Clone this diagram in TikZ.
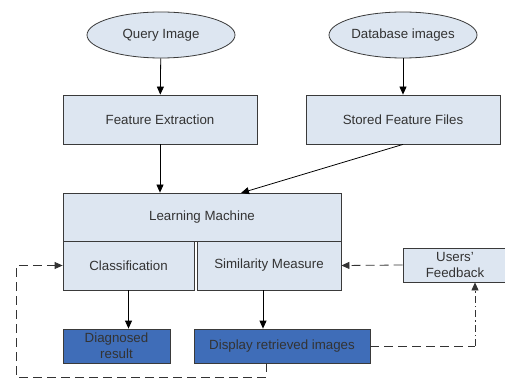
\documentclass[tikz,border=0pt]{standalone}
\usepackage{fontspec}
\setmainfont{Liberation Sans}
\usetikzlibrary{arrows.meta,shapes.geometric}
\definecolor{boxfill}{HTML}{DDE6F1}
\definecolor{darkfill}{HTML}{3F6DB8}
\definecolor{edge}{HTML}{3A3A3A}
\begin{document}
\begin{tikzpicture}[x=1pt,y=-1pt,
    every node/.style={font=\fontsize{13.3}{16}\selectfont,text=black!80,inner sep=0pt},
    inbox/.style={ellipse,draw=edge,fill=boxfill,thick,minimum width=148,minimum height=46},
    stepbox/.style={rectangle,draw=edge,fill=boxfill,thick,minimum height=49},
    outbox/.style={rectangle,draw=edge,fill=darkfill,thick,minimum height=34,align=center},
    flow/.style={thick,-{Triangle[length=8pt,width=7pt]}},
    loopline/.style={thick,draw=black!80,dash pattern=on 9pt off 5pt},
    fbline/.style={thick,draw=black!80,dash pattern=on 7pt off 3pt on 1.5pt off 3pt}]
    \useasboundingbox (0,0) rectangle (505,387);

    % inputs
    \node[inbox] (query) at (161,35) {Query Image};
    \node[inbox] (dbimg) at (403,35) {Database images};

    % feature stage
    \node[stepbox,minimum width=194] (featext) at (160,119.5) {Feature Extraction};
    \node[stepbox,minimum width=194] (stored) at (403,119.5) {Stored Feature Files};

    % learning machine and its two parts
    \node[stepbox,minimum width=278,minimum height=48] (learn) at (202,217) {Learning Machine};
    \node[stepbox,minimum width=131] (classif) at (128.5,265.5) {Classification};
    \node[stepbox,minimum width=144] (simil) at (269,265.5) {Similarity Measure};
    \node[stepbox,minimum width=104,minimum height=34,align=center] (feedback) at (455,265)
        {Users'\\Feedback};

    % outputs
    \node[outbox,minimum width=107] (diag) at (116.5,346) {Diagnosed\\result};
    \node[outbox,minimum width=176] (display) at (282,346) {Display retrieved images};

    % solid arrows
    \coordinate (lmin) at (241,193);
    \draw[flow] (query) -- (featext);
    \draw[flow] (dbimg) -- (stored);
    \draw[flow] (featext.south) -- (featext.south |- learn.north);
    \draw[flow] (stored.south) -- (lmin);
    \draw[flow] (classif.south) -- (classif.south |- diag.north);
    \draw[flow] ([xshift=-6pt]simil.south) -- ([xshift=-6pt]simil.south |- display.north);

    % relevance feedback
    \coordinate (fbcorner) at (475,346);
    \draw[loopline,-{Triangle[length=8pt,width=7pt]}] (feedback.west) -- (simil.east);
    \draw[loopline] (display.east) -- (fbcorner);
    \draw[fbline,-{Triangle[length=8pt,width=7pt]}] (fbcorner) -- (fbcorner |- feedback.south);

    % back to classification
    \coordinate (loopbl) at (16,377);
    \draw[loopline,-{Triangle[length=8pt,width=7pt]}] ([xshift=-16pt]display.south) |- (loopbl) |- (classif.west);
\end{tikzpicture}
\end{document}
